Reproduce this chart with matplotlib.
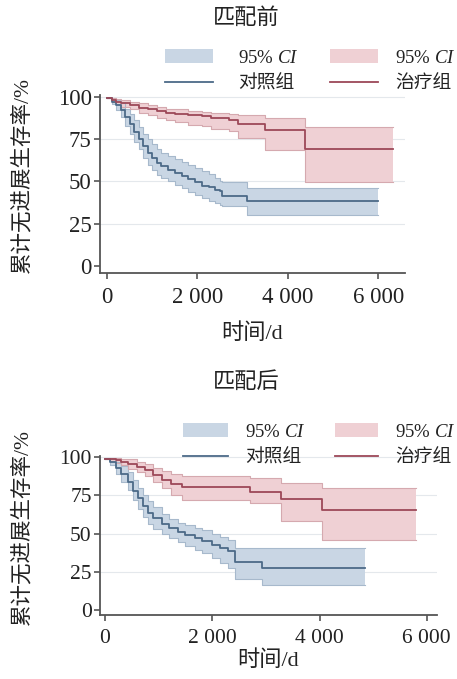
import matplotlib
matplotlib.use("Agg")
import matplotlib.pyplot as plt
from matplotlib.patches import Patch
from matplotlib.lines import Line2D

plt.rcParams['font.family'] = ['Liberation Serif', 'Noto Sans CJK SC']
plt.rcParams['mathtext.fontset'] = 'custom'
plt.rcParams['mathtext.it'] = 'Liberation Serif:italic'
plt.rcParams['mathtext.rm'] = 'Liberation Serif'
plt.rcParams['axes.unicode_minus'] = False

# ── data: before matching ────────────────────────────────────────────
t_ctrl_pre = [0, 100, 200, 300, 400, 500, 600, 700, 800, 900, 1000, 1100, 1200,
              1350, 1500, 1650, 1800, 1950, 2100, 2250, 2400, 2500, 2550, 3100, 6000]
s_ctrl_pre = [99, 97, 95, 92, 88, 84, 79, 75, 71, 67, 64, 61, 59,
              57, 55, 53.5, 51.5, 49.5, 47.5, 46.5, 45, 44.5, 41.5, 38.5, 38.5]
up_ctrl_pre = [99, 98.5, 98, 96, 93, 90, 86, 82, 78, 75, 72, 69, 67,
               65, 63, 61.5, 60, 58, 56, 54.5, 52, 50.5, 49.5, 46, 46]
lo_ctrl_pre = [99, 95.5, 92, 88, 83, 78, 73, 69, 64, 60, 57, 54, 52,
               50, 48, 46, 44, 42, 40, 38.5, 37.5, 36, 35.5, 30.5, 30.5]

t_trt_pre = [0, 100, 200, 300, 500, 700, 900, 1100, 1300, 1500, 1800, 2100,
             2300, 2700, 2900, 3500, 4380, 6330]
s_trt_pre = [99, 98, 97, 96, 95, 93.5, 92.5, 91.5, 90.5, 90, 89, 88.5,
             87.5, 86, 84, 80.5, 69, 69]
up_trt_pre = [99, 99, 98.5, 98, 97, 96, 95, 94, 93, 92.5, 91.5, 91,
              90.5, 90, 89, 87.5, 82, 82]
lo_trt_pre = [99, 97, 95.5, 94, 92.5, 90.5, 89, 87.5, 86, 85, 83.5, 82.5,
              81, 79.5, 75.5, 68.5, 49.5, 49.5]

# ── data: after matching ─────────────────────────────────────────────
t_ctrl_post = [0, 100, 200, 300, 434, 520, 620, 700, 806, 900, 1055, 1200, 1365,
               1500, 1676, 1800, 1987, 2150, 2296, 2420, 2936, 4840]
s_ctrl_post = [99, 97, 93, 89, 84, 78, 73, 68, 63.5, 60, 56.5, 53.5, 51,
               49, 47, 45, 42.5, 40.5, 38.5, 31.5, 27.5, 27.5]
up_ctrl_post = [99, 99, 97, 94, 90, 85, 80, 75.5, 71, 67.5, 62.5, 59.5, 57,
                55.5, 53.8, 52, 49.5, 47.5, 45.7, 40.5, 40.5, 40.5]
lo_ctrl_post = [99, 95, 89, 84, 78.5, 72, 66, 61, 56, 53, 50, 47, 44.5,
                42, 39.3, 37, 34, 31, 27.6, 20.5, 16, 16]

t_trt_post = [0, 100, 200, 300, 434, 600, 745, 900, 1055, 1240, 1428, 2700,
              3290, 4054, 5805]
s_trt_post = [99, 98.5, 98, 97, 95.5, 93.5, 91.4, 88, 85, 82.6, 80.5, 77,
              72.5, 65.6, 65.6]
up_trt_post = [99.5, 99.5, 99.5, 99, 98.5, 97, 95.2, 93, 91, 89, 87.5, 86.5,
               83, 79.5, 79.5]
lo_trt_post = [99, 97.5, 96, 94.5, 92, 90, 87.6, 83.5, 80, 75, 72, 70,
               58.3, 46, 46]

titles = ["匹配前", "匹配后"]
y_ticks = [0, 25, 50, 75, 100]
grid_levels = [25, 50, 75, 100]
x_ticks = [0, 2000, 4000, 6000]
x_ticklabels = ["0", "2 000", "4 000", "6 000"]
ci_label = "95% $\\mathit{CI}$"
group_labels = ["对照组", "治疗组"]

# ── colours ──────────────────────────────────────────────────────────
blue_line, blue_fill, blue_edge = "#4c6a88", "#c9d6e4", "#a7b9cc"
red_line, red_fill, red_edge = "#9c4858", "#efd0d4", "#d5a9af"
styles = [(blue_line, blue_fill, blue_edge), (red_line, red_fill, red_edge)]

fig = plt.figure(figsize=(4.57, 6.79), dpi=100)
W, H = 457, 679


def px_axes(left, top, right, bottom):
    return fig.add_axes([left / W, 1 - bottom / H, (right - left) / W, (bottom - top) / H])


panels = [
    dict(box=(100, 95, 405, 273), xlim=(-155, 6593), ylim=(-4, 101), fs=16.5,
         data=[(t_ctrl_pre, s_ctrl_pre, up_ctrl_pre, lo_ctrl_pre),
               (t_trt_pre, s_trt_pre, up_trt_pre, lo_trt_pre)],
         title_y=18, leg_y=49,
         leg_cols=[(165, 2.56, 1.33), (330, 2.56, 0.9)],
         xl=-0.28, yl=(-0.22, 0.55)),
    dict(box=(100, 456, 437, 615), xlim=(-93, 6190), ylim=(-3.3, 100.7), fs=15.5,
         data=[(t_ctrl_post, s_ctrl_post, up_ctrl_post, lo_ctrl_post),
               (t_trt_post, s_trt_post, up_trt_post, lo_trt_post)],
         title_y=382, leg_y=423,
         leg_cols=[(183, 2.4, 0.9), (335, 2.3, 0.9)],
         xl=-0.22, yl=(-0.199, 0.553)),
]

for i, p in enumerate(panels):
    ax = px_axes(*p["box"])
    for (t, s, up, lo), (lc, fc, ec) in zip(p["data"], styles):
        ax.fill_between(t, lo, up, step="post", color=fc, lw=0, zorder=2)
        ax.step(t, up, where="post", color=ec, lw=0.8, zorder=3)
        ax.step(t, lo, where="post", color=ec, lw=0.8, zorder=3)
        ax.step(t, s, where="post", color=lc, lw=1.3, zorder=4)
    for g in grid_levels:
        ax.axhline(g, color="#e4e8ec", lw=0.8, zorder=1)
    ax.set_xlim(*p["xlim"])
    ax.set_ylim(*p["ylim"])
    ax.set_xticks(x_ticks)
    ax.set_xticklabels(x_ticklabels)
    ax.set_yticks(y_ticks)
    for side in ["top", "right"]:
        ax.spines[side].set_visible(False)
    for side in ["left", "bottom"]:
        ax.spines[side].set_color("#555555")
        ax.spines[side].set_linewidth(1.3)
    ax.tick_params(axis="both", direction="out", length=4, width=1.2,
                   color="#555555", labelsize=p["fs"], labelcolor="#222222", pad=2)
    ax.tick_params(axis="x", pad=6)
    ax.set_xlabel("时间/d", fontsize=16, color="#222222")
    ax.xaxis.set_label_coords(0.5, p["xl"])
    ax.set_ylabel("累计无进展生存率/%", fontsize=15.5, color="#222222")
    ax.yaxis.set_label_coords(*p["yl"])

    fig.text(246 / W, 1 - p["title_y"] / H, titles[i], ha="center", va="center",
             fontsize=16, color="#222222")

    # one legend column per group, so each keeps its own spacing
    for (lx, hl, htp), (lc, fc, ec), name in zip(p["leg_cols"], styles, group_labels):
        handles = [Patch(facecolor=fc, edgecolor="none"),
                   Line2D([], [], color=lc, lw=1.3)]
        fig.legend(handles, [ci_label, name], frameon=False, loc="upper left",
                   bbox_to_anchor=(lx / W, 1 - p["leg_y"] / H), borderaxespad=0,
                   borderpad=0, fontsize=13.5, handlelength=hl, handleheight=0.8,
                   handletextpad=htp, labelspacing=0.46, labelcolor="#222222")

fig.savefig("out.png", dpi=100)
